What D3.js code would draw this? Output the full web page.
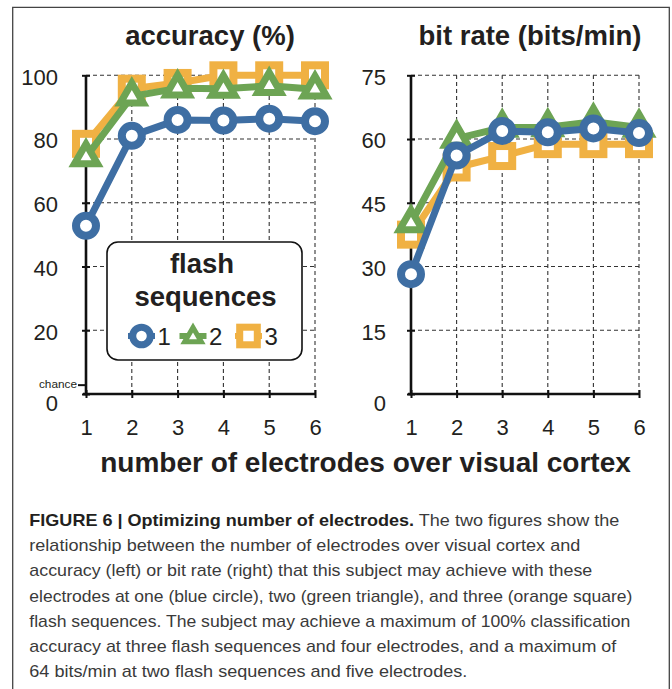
<!DOCTYPE html>
<html>
<head>
<meta charset="utf-8">
<script src="https://cdn.jsdelivr.net/npm/d3@7"></script>
<style>
  html, body { margin: 0; padding: 0; background: #fff; }
  svg { display: block; }
  text { font-family: "Liberation Sans", Arial, Helvetica, sans-serif; fill: #231f20; }
</style>
</head>
<body>
<script>
// ---------------- DATA ----------------
const electrodes = [1, 2, 3, 4, 5, 6];
const flashSequences = ["1", "2", "3"];

const accuracy1 = [52.8, 81.0, 86.0, 85.8, 86.4, 85.6];
const accuracy2 = [74.3, 93.4, 95.9, 95.8, 96.7, 95.6];
const accuracy3 = [78.5, 95.8, 97.6, 100, 100, 100];

const bitrate1 = [28.2, 56.1, 61.9, 61.6, 62.5, 61.4];
const bitrate2 = [40.2, 60.1, 62.7, 62.8, 64.1, 62.7];
const bitrate3 = [37.5, 53.3, 56.0, 58.8, 58.8, 58.8];

const accuracyTicks = [0, 20, 40, 60, 80, 100];
const bitrateTicks = [0, 15, 30, 45, 60, 75];
const chanceLevel = 100 / 36;

const captionBold = "FIGURE 6 | Optimizing number of electrodes.";
const captionLines = [
  " The two figures show the",
  "relationship between the number of electrodes over visual cortex and",
  "accuracy (left) or bit rate (right) that this subject may achieve with these",
  "electrodes at one (blue circle), two (green triangle), and three (orange square)",
  "flash sequences. The subject may achieve a maximum of 100% classification",
  "accuracy at three flash sequences and four electrodes, and a maximum of",
  "64 bits/min at two flash sequences and five electrodes."
];

// ---------------- STYLE / LAYOUT ----------------
const colors = { "1": "#3e6ea3", "2": "#6da454", "3": "#f0b143" };
const shapes = { "1": "circle", "2": "triangle", "3": "square" };
const captionWidths = [590, 551, 563, 603, 601, 587, 438];

const W = 672, H = 689;
const svg = d3.select("body").append("svg").attr("width", W).attr("height", H);

// outer frame
svg.append("path")
  .attr("d", "M12.7,689 V7.3 H669.3 V689")
  .attr("fill", "none").attr("stroke", "#444").attr("stroke-width", 1.3);

function drawMarker(g, shape, color, cx, cy, scale) {
  scale = scale || 1;
  if (shape === "circle") {
    g.append("circle").attr("cx", cx).attr("cy", cy).attr("r", 10 * scale)
      .attr("fill", "#fff").attr("stroke", color).attr("stroke-width", 8 * scale);
  } else if (shape === "square") {
    const s = 20 * scale;
    g.append("rect").attr("x", cx - s / 2).attr("y", cy - s / 2).attr("width", s).attr("height", s)
      .attr("fill", "#fff").attr("stroke", color).attr("stroke-width", 8 * scale);
  } else {
    g.append("path").attr("d", d3.symbol().type(d3.symbolTriangle).size(229 * scale * scale)())
      .attr("transform", `translate(${cx},${cy})`)
      .attr("fill", "#fff").attr("stroke", color).attr("stroke-width", 7 * scale)
      .attr("stroke-linejoin", "miter");
  }
}

function drawPanel(cfg) {
  const x = d3.scaleLinear().domain([1, 6]).range(cfg.xRange);
  const y = d3.scaleLinear().domain([0, cfg.ticks[cfg.ticks.length - 1]]).range([394, 75.3]);
  const g = svg.append("g");

  // grid
  const grid = g.append("g").attr("stroke", "#333").attr("stroke-width", 1.1)
    .attr("stroke-dasharray", "4,3").attr("fill", "none");
  cfg.ticks.filter(t => t !== 0).forEach(t => {
    grid.append("line").attr("x1", x(1)).attr("x2", x(6)).attr("y1", y(t)).attr("y2", y(t));
  });
  electrodes.filter(e => e !== 1).forEach(e => {
    grid.append("line").attr("x1", x(e)).attr("x2", x(e)).attr("y1", y(0)).attr("y2", y(cfg.ticks[cfg.ticks.length - 1]));
  });

  // y axis
  const yAxis = d3.axisLeft(y).tickValues(cfg.ticks).tickFormat(d3.format("d")).tickSize(4).tickPadding(cfg.yPad);
  const ya = g.append("g").attr("transform", `translate(${x(1)},0)`).call(yAxis);
  ya.select(".domain").remove();
  ya.selectAll(".tick line").attr("x1", -4).attr("x2", 4).attr("stroke", "#111").attr("stroke-width", 2);
  ya.selectAll(".tick text").attr("font-size", 22).attr("fill", "#231f20")
    .attr("font-family", "Liberation Sans, Arial, sans-serif")
    .attr("dy", d => d === 0 ? "0.73em" : "0.4em");
  g.append("line").attr("x1", x(1)).attr("x2", x(1)).attr("y1", y(0) + 1.2)
    .attr("y2", y(cfg.ticks[cfg.ticks.length - 1])).attr("stroke", "#111").attr("stroke-width", 2.6);

  // x axis
  const xAxis = d3.axisBottom(x).tickValues(electrodes).tickFormat(d3.format("d")).tickSize(4).tickPadding(21);
  const xa = g.append("g").attr("transform", `translate(0,${y(0)})`).call(xAxis);
  xa.select(".domain").remove();
  xa.selectAll(".tick line").attr("y1", -4).attr("y2", 4).attr("stroke", "#111").attr("stroke-width", 2);
  xa.selectAll(".tick text").attr("font-size", 22).attr("fill", "#231f20")
    .attr("font-family", "Liberation Sans, Arial, sans-serif");
  g.append("line").attr("x1", x(1) - 3).attr("x2", x(6) + 1).attr("y1", y(0)).attr("y2", y(0))
    .attr("stroke", "#111").attr("stroke-width", 2.6);

  // chance
  if (cfg.chance) {
    g.append("line").attr("x1", x(1) - 8).attr("x2", x(1)).attr("y1", y(cfg.chance)).attr("y2", y(cfg.chance))
      .attr("stroke", "#111").attr("stroke-width", 2);
    g.append("text").attr("x", x(1) - 9).attr("y", y(cfg.chance) - 1).attr("dy", "0.35em")
      .attr("text-anchor", "end").attr("font-size", 11.8).text("chance");
  }

  // title
  g.append("text").attr("x", cfg.titleX).attr("y", 45).attr("text-anchor", "middle")
    .attr("font-size", 27.5).attr("font-weight", "bold").text(cfg.title);

  // series (3 drawn first, 1 on top)
  const line = d3.line().x((d, i) => x(electrodes[i])).y(d => y(d));
  [2, 1, 0].forEach(si => {
    const key = flashSequences[si];
    const vals = cfg.series[si];
    const sg = g.append("g");
    sg.append("path").attr("d", line(vals)).attr("fill", "none")
      .attr("stroke", colors[key]).attr("stroke-width", 7).attr("stroke-linejoin", "round");
    vals.forEach((v, i) => drawMarker(sg, shapes[key], colors[key], x(electrodes[i]), y(v)));
  });
  return { x, y };
}

drawPanel({
  xRange: [86, 315], ticks: accuracyTicks, yPad: 24, chance: chanceLevel,
  title: "accuracy (%)", titleX: 210,
  series: [accuracy1, accuracy2, accuracy3]
});
drawPanel({
  xRange: [411, 639], ticks: bitrateTicks, yPad: 21,
  title: "bit rate (bits/min)", titleX: 530,
  series: [bitrate1, bitrate2, bitrate3]
});

// legend
const lg = svg.append("g");
lg.append("rect").attr("x", 107).attr("y", 242).attr("width", 195).attr("height", 118)
  .attr("rx", 11).attr("ry", 11).attr("fill", "#fff").attr("stroke", "#111").attr("stroke-width", 1.6);
lg.append("text").attr("x", 202).attr("y", 273).attr("text-anchor", "middle")
  .attr("font-size", 27.5).attr("font-weight", "bold").text("flash");
lg.append("text").attr("x", 205.5).attr("y", 306).attr("text-anchor", "middle")
  .attr("font-size", 27.5).attr("font-weight", "bold").text("sequences");
const legendX = [141.5, 193, 248.5];
flashSequences.forEach((key, i) => {
  const cx = legendX[i], cy = 336;
  lg.append("line").attr("x1", cx - 13.5).attr("x2", cx + 13.5).attr("y1", cy).attr("y2", cy)
    .attr("stroke", colors[key]).attr("stroke-width", 6);
  drawMarker(lg, shapes[key], colors[key], cx, shapes[key] === "triangle" ? cy + 1 : cy, shapes[key] === "triangle" ? 0.72 : 0.88);
  lg.append("text").attr("x", cx + 16).attr("y", cy).attr("dy", "0.36em")
    .attr("font-size", 24).text(key);
});

// x axis title
svg.append("text").attr("x", 365.5).attr("y", 472).attr("text-anchor", "middle")
  .attr("font-size", 28).attr("font-weight", "bold").text("number of electrodes over visual cortex");

// caption
const capY0 = 526, capDY = 25.2;
captionLines.forEach((ln, i) => {
  const t = svg.append("text").attr("x", 29.3).attr("y", capY0 + i * capDY)
    .attr("font-size", 16.6).style("fill", "#3a3a3a")
    .attr("textLength", captionWidths[i]).attr("lengthAdjust", "spacingAndGlyphs");
  if (i === 0) {
    t.append("tspan").attr("font-weight", "bold").style("fill", "#231f20").text(captionBold);
  }
  t.append("tspan").text(ln);
});
</script>
</body>
</html>
